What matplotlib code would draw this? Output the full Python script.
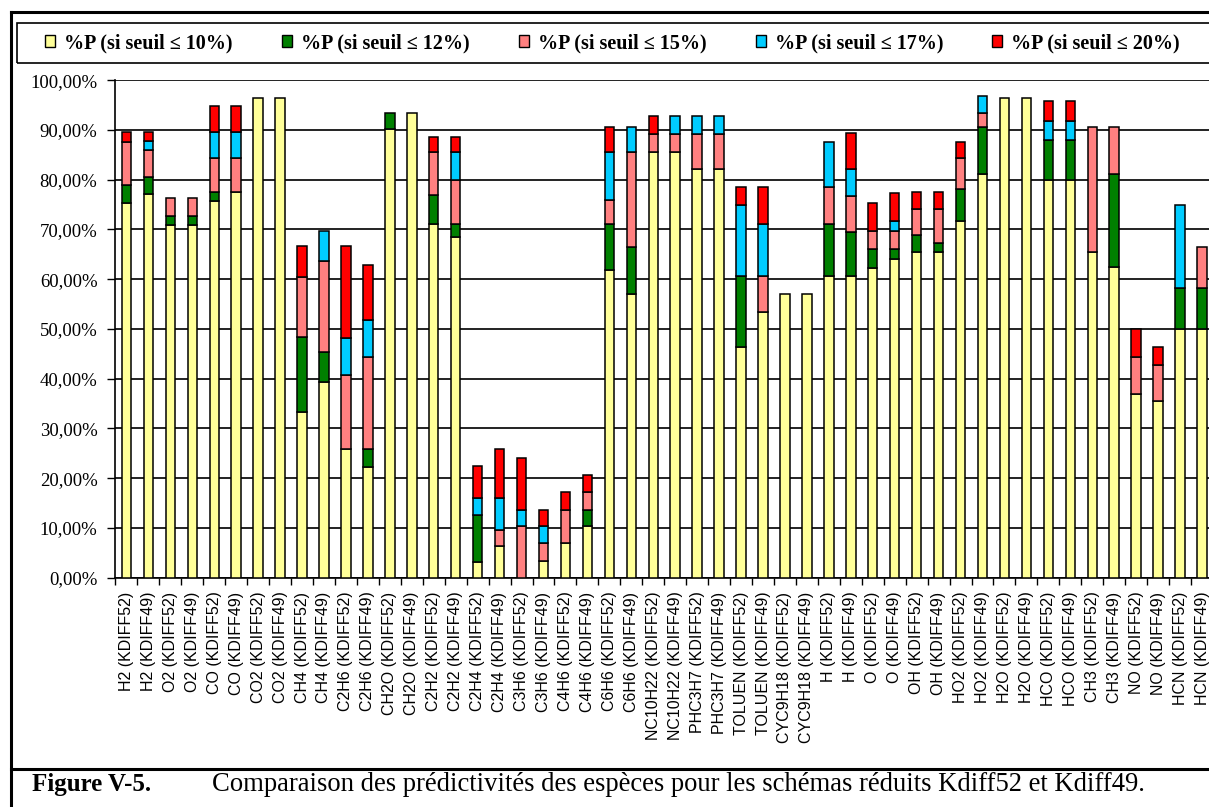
import numpy as np
import matplotlib
matplotlib.use("Agg")
import matplotlib.pyplot as plt
from matplotlib.patches import Patch, Rectangle
from matplotlib.lines import Line2D
from matplotlib.ticker import FuncFormatter, MultipleLocator

# === Data ===
species = ["H2", "O2", "CO", "CO2", "CH4", "C2H6", "CH2O", "C2H2", "C2H4", "C3H6",
           "C4H6", "C6H6", "NC10H22", "PHC3H7", "TOLUEN", "CYC9H18", "H", "O", "OH",
           "HO2", "H2O", "HCO", "CH3", "NO", "HCN"]
schemes = ["KDIFF52", "KDIFF49"]
labels = [f"{s} ({k})" for s in species for k in schemes]

# segment sizes (%), one value per bar
p10 = [75.4, 77.1, 70.8, 70.8, 75.7, 77.5, 96.5, 96.5, 33.3, 39.3,
       25.9, 22.2, 90.1, 93.5, 71.2, 68.5, 3.1, 6.4, 0.0, 3.4,
       6.9, 10.3, 61.8, 57.0, 85.6, 85.6, 82.1, 82.1, 46.4, 53.5,
       57.0, 57.0, 60.6, 60.6, 62.2, 64.1, 65.4, 65.4, 71.8, 81.1,
       96.4, 96.4, 79.9, 79.9, 65.5, 62.4, 37.0, 35.6, 49.9, 49.9]
p12 = [3.5, 3.5, 2.0, 2.0, 1.8, 0.0, 0.0, 0.0, 15.1, 6.1,
       0.0, 3.7, 3.4, 0.0, 5.8, 2.7, 9.6, 0.0, 0.0, 0.0,
       0.0, 3.4, 9.4, 9.5, 0.0, 0.0, 0.0, 0.0, 14.2, 0.0,
       0.0, 0.0, 10.6, 8.8, 3.8, 1.9, 3.5, 1.8, 6.3, 9.4,
       0.0, 0.0, 8.0, 8.0, 0.0, 18.7, 0.0, 0.0, 8.3, 8.3]
p15 = [8.7, 5.4, 3.6, 3.6, 6.9, 6.9, 0.0, 0.0, 12.1, 18.2,
       14.9, 18.5, 0.0, 0.0, 8.6, 8.7, 0.0, 3.2, 10.3, 3.5,
       6.8, 3.5, 4.8, 19.1, 3.6, 3.6, 7.1, 7.1, 0.0, 7.1,
       0.0, 0.0, 7.3, 7.3, 3.7, 3.7, 5.2, 6.9, 6.2, 3.0,
       0.0, 0.0, 0.0, 0.0, 25.0, 9.4, 7.4, 7.2, 0.0, 8.3]
p17 = [0.0, 1.7, 0.0, 0.0, 5.2, 5.2, 0.0, 0.0, 0.0, 6.0,
       7.4, 7.4, 0.0, 0.0, 0.0, 5.7, 3.4, 6.5, 3.4, 3.4,
       0.0, 0.0, 9.6, 4.9, 0.0, 3.6, 3.6, 3.6, 14.3, 10.6,
       0.0, 0.0, 9.0, 5.4, 0.0, 2.0, 0.0, 0.0, 0.0, 3.3,
       0.0, 0.0, 4.0, 4.0, 0.0, 0.0, 0.0, 0.0, 16.7, 0.0]
p20 = [1.9, 1.8, 0.0, 0.0, 5.2, 5.2, 0.0, 0.0, 6.2, 0.0,
       18.5, 11.1, 0.0, 0.0, 2.9, 2.9, 6.4, 9.7, 10.4, 3.4,
       3.5, 3.5, 4.9, 0.0, 3.6, 0.0, 0.0, 0.0, 3.6, 7.3,
       0.0, 0.0, 0.0, 7.2, 5.7, 5.6, 3.4, 3.4, 3.2, 0.0,
       0.0, 0.0, 4.0, 4.0, 0.0, 0.0, 5.5, 3.6, 0.0, 0.0]

series = [p10, p12, p15, p17, p20]
series_names = ["%P (si seuil \u2264 10%)", "%P (si seuil \u2264 12%)", "%P (si seuil \u2264 15%)",
                "%P (si seuil \u2264 17%)", "%P (si seuil \u2264 20%)"]
colors = ["#FFFF99", "#008000", "#FF8080", "#00CCFF", "#FF0000"]

SERIF = "Liberation Serif"
SANS = "Liberation Sans"

# === Figure ===
fig = plt.figure(figsize=(12.09, 8.07), dpi=100)
ax = fig.add_axes([0.0955, 0.2841, 0.9078, 0.6165])

x = np.arange(len(labels))
bottom = np.zeros(len(labels))
for vals, col in zip(series, colors):
    vals = np.array(vals)
    lw = np.where(vals > 0, 1.1, 0.0)
    ax.bar(x, vals, 0.43, bottom=bottom, color=col, edgecolor="black",
           linewidth=lw, zorder=3)
    bottom += vals

ax.set_xlim(-0.5, len(labels) - 0.5)
ax.set_ylim(0, 100)
ax.yaxis.set_major_locator(MultipleLocator(10))
ax.yaxis.set_major_formatter(FuncFormatter(lambda v, p: f"{v:.2f}%".replace(".", ",")))
ax.grid(axis="y", color="#222222", linewidth=1.4, zorder=0)

ax.set_xticks(x - 0.5, minor=False)
ax.set_xticks(x, minor=True)
ax.set_xticklabels([])
ax.set_xticklabels(labels, minor=True, rotation=90, fontfamily=SANS, fontsize=11.5)
ax.tick_params(axis="x", which="major", length=5, width=1, color="black")
ax.tick_params(axis="x", which="minor", length=0, pad=10)
ax.tick_params(axis="y", length=6, width=1, pad=7, labelsize=13.5)
for t in ax.get_yticklabels():
    t.set_fontfamily(SERIF)

for side in ["top", "right"]:
    ax.spines[side].set_visible(False)
ax.spines["left"].set_linewidth(1.2)
ax.spines["bottom"].set_linewidth(1.2)

# === Legend ===
handles = [Patch(facecolor=c, edgecolor="black", linewidth=1.0) for c in colors]
fig.legend(handles, series_names, loc="center left", bbox_to_anchor=(0.0372, 0.9467),
           ncol=5, frameon=False, borderpad=0, borderaxespad=0,
           handlelength=0.5, handleheight=0.5, handletextpad=0.45,
           columnspacing=2.44, prop={"family": SERIF, "weight": "bold", "size": 14.5})
fig.add_artist(Rectangle((0.0141, 0.9219), 1.0, 0.0496, transform=fig.transFigure,
                         fill=False, edgecolor="black", linewidth=1.2))

# === Outer frame and caption ===
fig.add_artist(Line2D([0.0091, 0.0091], [0.0, 0.9851], transform=fig.transFigure,
                      color="black", linewidth=2.2))
fig.add_artist(Line2D([0.0091, 1.0], [0.9851, 0.9851], transform=fig.transFigure,
                      color="black", linewidth=2.2))
fig.add_artist(Line2D([0.0091, 1.0], [0.0471, 0.0471], transform=fig.transFigure,
                      color="black", linewidth=2.2))

fig.text(0.0265, 0.0273, "Figure V-5.", fontfamily=SERIF, fontweight="bold",
         fontsize=18, va="center")
fig.text(0.1753, 0.0273,
         "Comparaison des prédictivités des espèces pour les schémas réduits Kdiff52 et Kdiff49.",
         fontfamily=SERIF, fontsize=19.2, va="center")

fig.savefig("out.png", dpi=100)
